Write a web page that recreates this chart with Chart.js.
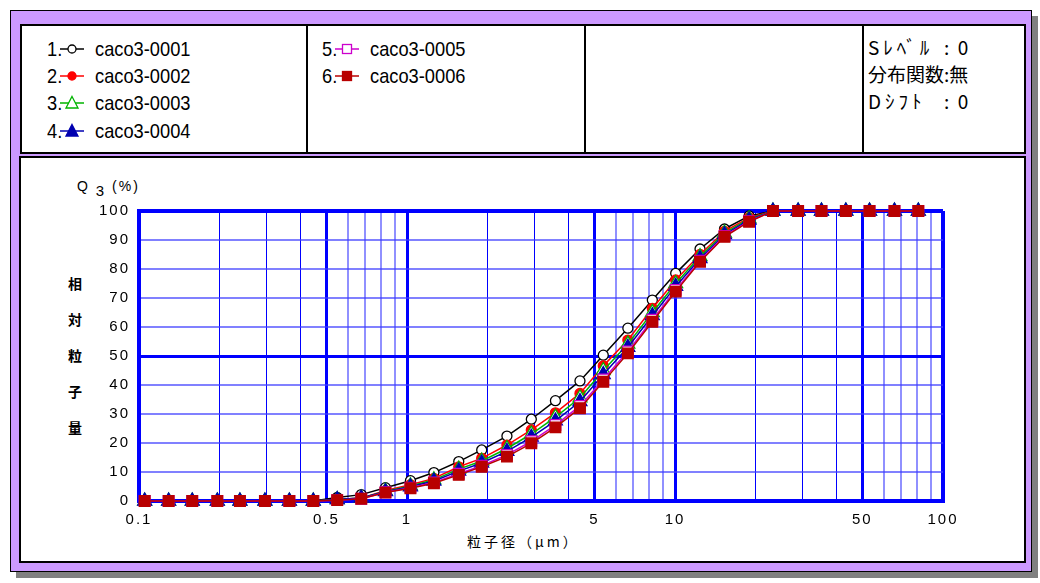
<!DOCTYPE html>
<html>
<head>
<meta charset="utf-8">
<script src="https://cdn.jsdelivr.net/npm/chart.js@4"></script>
<style>
body { margin:0; width:1040px; height:583px; background:#fff; position:relative; overflow:hidden; font-family:"Liberation Sans", Arial, sans-serif; }
#frame { position:absolute; left:10px; top:10px; width:1020px; height:560px; background:#cc99ff; border:1px solid #000; box-shadow:6px 6px 0 #808080; }
.panel { position:absolute; background:#fff; border:2px solid #000; box-sizing:border-box; }
#legendBox { left:20px; top:24px; width:1006px; height:130px; }
#plotBox { left:19px; top:156px; width:1007px; height:407px; }
.vline { position:absolute; top:24px; width:2px; height:130px; background:#000; }
.leg { position:absolute; font-family:"Liberation Sans", Arial, sans-serif; font-size:21px; display:flex; align-items:center; height:26px; white-space:nowrap; }
.leg .t { display:inline-block; transform:scaleX(0.87); transform-origin:0 50%; }
.leg .n { width:13px; }
.leg svg { margin:0 11px 0 0; }
.info { position:absolute; left:868px; font-family:"Noto Sans CJK JP",sans-serif; font-size:19px; line-height:27px; white-space:pre; }
.info .lb { display:inline-block; width:76px; }
#chartCanvas { position:absolute; left:21px; top:158px; }
.cjk { font-family:"Noto Sans CJK JP",sans-serif; }
</style>
</head>
<body>
<div id="frame"></div>
<div class="panel" id="legendBox"></div>
<div class="vline" style="left:306px"></div>
<div class="vline" style="left:584px"></div>
<div class="vline" style="left:862px"></div>
<div class="panel" id="plotBox"></div>
<div id="legendItems"></div>
<div class="info" style="top:33px"><span class="lb" style="letter-spacing:4px">Sﾚﾍﾞﾙ</span>:  0
<span class="lb" style="width:auto">分布関数</span>:無
<span class="lb" style="letter-spacing:4px">Dｼﾌﾄ</span>:  0</div>

<div style="position:absolute;left:77px;top:177px;font-size:14px;letter-spacing:2px;">Q <span style="position:relative;top:5px;font-size:15px">3</span> (%)</div>
<div class="cjk" style="position:absolute;left:67px;top:265px;width:16px;font-size:14px;font-weight:bold;line-height:36px;text-align:center;">相<br>対<br>粒<br>子<br>量</div>
<div class="cjk" style="position:absolute;left:467px;top:531px;font-size:14px;letter-spacing:3px;">粒子径（μm）</div>

<canvas id="chartCanvas" width="1003" height="403"></canvas>

<script>
// 粒子径 (μm)
const sizes = [0.105, 0.129, 0.158, 0.196, 0.238, 0.295, 0.364, 0.447, 0.549, 0.675,
  0.831, 1.03, 1.26, 1.56, 1.90, 2.36, 2.91, 3.58, 4.42, 5.40,
  6.67, 8.23, 10.06, 12.4, 15.3, 18.9, 23.2, 28.8, 35.2, 43.4,
  53.2, 65.9, 80.9];

// Q3 (%) 各サンプル
const caco3_0001 = [0, 0, 0, 0, 0, 0, 0, 0, 1.2, 2.2, 4.6, 7.0, 9.8, 13.6, 17.6, 22.4, 28.2, 34.6, 41.4, 50.3, 59.6, 69.3, 78.5, 86.9, 93.8, 98.3, 100, 100, 100, 100, 100, 100, 100];
const caco3_0002 = [0, 0, 0, 0, 0, 0, 0, 0, 0.5, 1.0, 3.6, 5.6, 7.8, 11.8, 14.7, 19.3, 24.5, 30.4, 37.1, 46.6, 55.5, 66.4, 76.2, 85.0, 93.0, 97.7, 100, 100, 100, 100, 100, 100, 100];
const caco3_0003 = [0, 0, 0, 0, 0, 0, 0, 0, 0.5, 1.0, 3.4, 5.2, 7.3, 11.0, 13.8, 18.1, 23.1, 28.9, 35.6, 45.0, 54.1, 65.0, 75.0, 84.3, 92.4, 97.3, 100, 100, 100, 100, 100, 100, 100];
const caco3_0004 = [0, 0, 0, 0, 0, 0, 0, 0, 0.5, 1.0, 3.2, 4.9, 6.9, 10.3, 13.1, 17.1, 22.0, 27.6, 34.3, 43.6, 53.0, 63.9, 74.0, 83.6, 91.9, 96.9, 100, 100, 100, 100, 100, 100, 100];
const caco3_0005 = [0, 0, 0, 0, 0, 0, 0, 0, 0.3, 0.8, 3.0, 4.6, 6.4, 9.4, 12.2, 15.9, 20.6, 26.2, 32.8, 41.9, 51.6, 62.5, 72.8, 82.9, 91.4, 96.5, 100, 100, 100, 100, 100, 100, 100];
const caco3_0006 = [0, 0, 0, 0, 0, 0, 0, 0, 0.3, 0.8, 2.9, 4.4, 6.1, 9.0, 11.8, 15.3, 19.9, 25.4, 32.0, 41.1, 50.9, 61.8, 72.2, 82.5, 91.1, 96.3, 100, 100, 100, 100, 100, 100, 100];

const seriesNames = ['caco3-0001', 'caco3-0002', 'caco3-0003', 'caco3-0004', 'caco3-0005', 'caco3-0006'];
const seriesValues = [caco3_0001, caco3_0002, caco3_0003, caco3_0004, caco3_0005, caco3_0006];

// 目盛り
const xGridValues = [0.1, 0.2, 0.3, 0.4, 0.5, 0.6, 0.7, 0.8, 0.9,
  1, 2, 3, 4, 5, 6, 7, 8, 9,
  10, 20, 30, 40, 50, 60, 70, 80, 90, 100];
const xTickLabels = [0.1, 0.5, 1, 5, 10, 50, 100];

// 見た目
const styles = [
  { color: '#000000', shape: 'circle',   r: 5,   fill: '#ffffff' },
  { color: '#ff0000', shape: 'circle',   r: 5,   fill: '#ff0000' },
  { color: '#00b400', shape: 'triangle', r: 8,   fill: '#ffffff' },
  { color: '#0000b0', shape: 'triangle', r: 8,   fill: '#0000b0' },
  { color: '#cc00cc', shape: 'rect',     r: 7.5, fill: '#ffffff' },
  { color: '#b80000', shape: 'rect',     r: 7.5, fill: '#b80000' }
];

// 凡例 (HTML)
function markerSvg(st) {
  let m = '';
  if (st.shape === 'circle') m = `<circle cx="12" cy="8" r="4" fill="${st.fill}" stroke="${st.color}" stroke-width="1.3"/>`;
  if (st.shape === 'triangle') m = `<polygon points="12,1.5 18,13 6,13" fill="${st.fill}" stroke="${st.color}" stroke-width="1.3"/>`;
  if (st.shape === 'rect') m = `<rect x="7.5" y="3.5" width="9" height="9" fill="${st.fill}" stroke="${st.color}" stroke-width="1.3"/>`;
  return `<svg width="24" height="16"><line x1="0" y1="8" x2="24" y2="8" stroke="${st.color}" stroke-width="1.5"/>${m}</svg>`;
}
const legendPos = [[47, 36], [47, 63], [47, 90], [47, 118], [322, 36], [322, 63]];
let html = '';
seriesNames.forEach((name, i) => {
  html += `<div class="leg" style="left:${legendPos[i][0]}px;top:${legendPos[i][1]}px">` +
    `<span class="t n">${i + 1}.</span>${markerSvg(styles[i])}<span class="t">${name}</span></div>`;
});
document.getElementById('legendItems').innerHTML = html;

// 目盛り文字の字間
const spacingPlugin = {
  id: 'spacing',
  beforeDraw(chart) { chart.ctx.letterSpacing = '2px'; }
};

const datasets = seriesValues.map((vals, i) => ({
  label: seriesNames[i],
  data: sizes.map((x, k) => ({ x: x, y: vals[k] })),
  borderColor: styles[i].color,
  backgroundColor: styles[i].fill,
  pointBackgroundColor: styles[i].fill,
  pointBorderColor: styles[i].color,
  pointStyle: styles[i].shape,
  pointRadius: styles[i].r,
  pointBorderWidth: 1.3,
  borderWidth: 1.5,
  tension: 0,
  clip: false,
  order: 6 - i
}));

new Chart(document.getElementById('chartCanvas').getContext('2d'), {
  type: 'line',
  data: { datasets: datasets },
  plugins: [spacingPlugin],
  options: {
    responsive: false,
    animation: false,
    layout: { padding: { top: 53, right: 81, left: 0, bottom: 0 } },
    plugins: { legend: { display: false }, tooltip: { enabled: false } },
    scales: {
      x: {
        type: 'logarithmic',
        min: 0.1,
        max: 100,
        afterBuildTicks: s => { s.ticks = xGridValues.map(v => ({ value: v })); },
        afterFit: s => { s.height = 60; },
        border: { display: true, color: '#0000ff', width: 4 },
        grid: {
          drawTicks: false,
          color: c => {
            const v = c.tick.value;
            const d = v / Math.pow(10, Math.floor(Math.log10(v) + 1e-9));
            if (Math.round(d) >= 6) return 'rgba(70,70,255,0.6)';
            return '#0000ff';
          },
          lineWidth: c => {
            const v = c.tick.value;
            if (v === 0.1 || v === 100) return 4;
            if (xTickLabels.includes(v)) return 3;
            const d = v / Math.pow(10, Math.floor(Math.log10(v) + 1e-9));
            return Math.round(d) >= 6 ? 2 : 1;
          }
        },
        ticks: {
          autoSkip: false,
          maxRotation: 0,
          padding: 10,
          color: '#000',
          font: { family: 'Liberation Sans', size: 15 },
          callback: v => xTickLabels.includes(v) ? String(v) : ''
        }
      },
      y: {
        min: 0,
        max: 100,
        afterFit: s => { s.width = 118; },
        border: { display: true, color: '#0000ff', width: 4 },
        grid: {
          drawTicks: false,
          color: c => (c.tick.value === 50 || c.tick.value === 100) ? '#0000ff' : 'rgba(60,60,255,0.65)',
          lineWidth: c => c.tick.value === 100 ? 4 : (c.tick.value === 50 ? 3 : 2)
        },
        ticks: {
          stepSize: 10,
          padding: 9,
          color: '#000',
          font: { family: 'Liberation Sans', size: 15 }
        }
      }
    }
  }
});
</script>
</body>
</html>
